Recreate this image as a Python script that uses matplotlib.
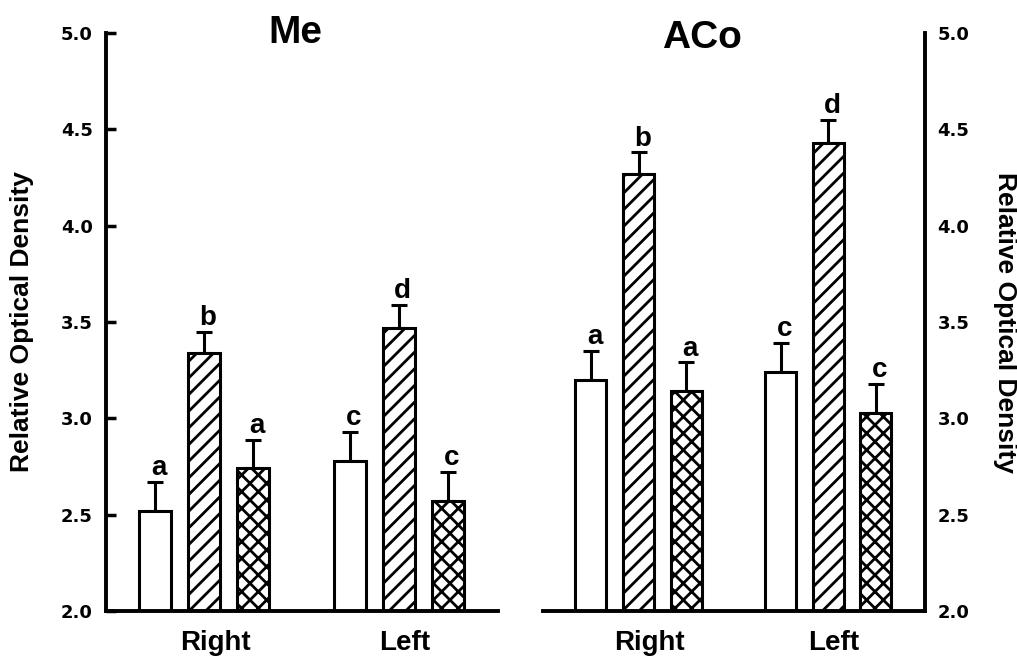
import numpy as np
import matplotlib
matplotlib.use('Agg')
import matplotlib.pyplot as plt

plt.rcParams['font.family'] = ['Liberation Sans', 'DejaVu Sans']
plt.rcParams['font.weight'] = 'bold'
plt.rcParams['hatch.linewidth'] = 2.0
plt.rcParams['hatch.color'] = 'black'

sides = ['Right', 'Left']
regions = ['Me', 'ACo']

# bar means per region: [open, hatched, cross-hatched] for Right then Left
me_right = [2.52, 3.34, 2.74]
me_left = [2.78, 3.47, 2.57]
me_right_err = [0.15, 0.11, 0.15]
me_left_err = [0.15, 0.12, 0.15]
me_right_letters = ['a', 'b', 'a']
me_left_letters = ['c', 'd', 'c']

aco_right = [3.20, 4.27, 3.14]
aco_left = [3.24, 4.43, 3.03]
aco_right_err = [0.15, 0.11, 0.15]
aco_left_err = [0.15, 0.12, 0.15]
aco_right_letters = ['a', 'b', 'a']
aco_left_letters = ['c', 'd', 'c']

hatches = ['', '//', 'xx']
y_ticks = np.arange(2.0, 5.01, 0.5)
y_tick_labels = ['%.1f' % t for t in y_ticks]

offsets = [-0.251, 0.0, 0.251]
bar_width = 0.164
font_size_tick = 13
font_size_label = 19
font_size_letter = 20
font_size_title = 28
spine_width = 2.8


def draw_panel(ax, right_vals, left_vals, right_err, left_err, right_letters, left_letters):
    groups = [(0, right_vals, right_err, right_letters), (1, left_vals, left_err, left_letters)]
    for pos, vals, errs, letters in groups:
        for i in range(3):
            x = pos + offsets[i]
            ax.bar(x, vals[i] - 2.0, bottom=2.0, width=bar_width, color='white',
                   edgecolor='black', linewidth=2.2, hatch=hatches[i], zorder=2)
            ax.errorbar(x, vals[i], yerr=[[0], [errs[i]]], fmt='none', ecolor='black',
                        elinewidth=2.2, capsize=6, capthick=2.2, zorder=1)
            ax.annotate(letters[i], (x, vals[i] + errs[i]), xytext=(3, 5),
                        textcoords='offset points', ha='center', va='baseline',
                        fontsize=font_size_letter, fontweight='bold')
    ax.set_xlim(-0.503, 1.51)
    ax.set_ylim(2.0, 5.0)
    ax.set_yticks(y_ticks)
    ax.set_yticklabels(y_tick_labels, fontsize=font_size_tick, fontweight='bold',
                       family='DejaVu Sans')
    ax.set_xticks([0.06, 1.03])
    ax.set_xticklabels(sides, fontsize=font_size_letter, fontweight='bold')
    ax.tick_params(axis='x', length=0, pad=14)
    ax.spines['top'].set_visible(False)
    ax.spines['bottom'].set_linewidth(spine_width)


fig = plt.figure(figsize=(10.17, 6.61), dpi=100)

ax1 = fig.add_axes([0.1042, 0.0756, 0.3855, 0.8744])
draw_panel(ax1, me_right, me_left, me_right_err, me_left_err, me_right_letters, me_left_letters)
ax1.spines['right'].set_visible(False)
ax1.spines['left'].set_linewidth(spine_width)
ax1.tick_params(axis='y', direction='in', length=7, width=2.5, pad=9.5)
ax1.set_ylabel('Relative Optical Density', fontsize=font_size_label, fontweight='bold',
               va='center')
ax1.yaxis.set_label_coords(-0.214, 0.5)

ax2 = fig.add_axes([0.534, 0.0756, 0.3756, 0.8744])
draw_panel(ax2, aco_right, aco_left, aco_right_err, aco_left_err, aco_right_letters, aco_left_letters)
ax2.spines['left'].set_visible(False)
ax2.spines['right'].set_linewidth(spine_width)
ax2.yaxis.tick_right()
ax2.yaxis.set_label_position('right')
ax2.tick_params(axis='y', length=0, pad=9)
ax2.set_ylabel('Relative Optical Density', fontsize=font_size_label, fontweight='bold',
               rotation=270, va='center')
ax2.yaxis.set_label_coords(1.209, 0.5)

fig.text(0.290, 0.935, regions[0], ha='center', va='baseline', fontsize=font_size_title, fontweight='bold')
fig.text(0.690, 0.927, regions[1], ha='center', va='baseline', fontsize=font_size_title, fontweight='bold')

fig.savefig('out.png', dpi=100)
